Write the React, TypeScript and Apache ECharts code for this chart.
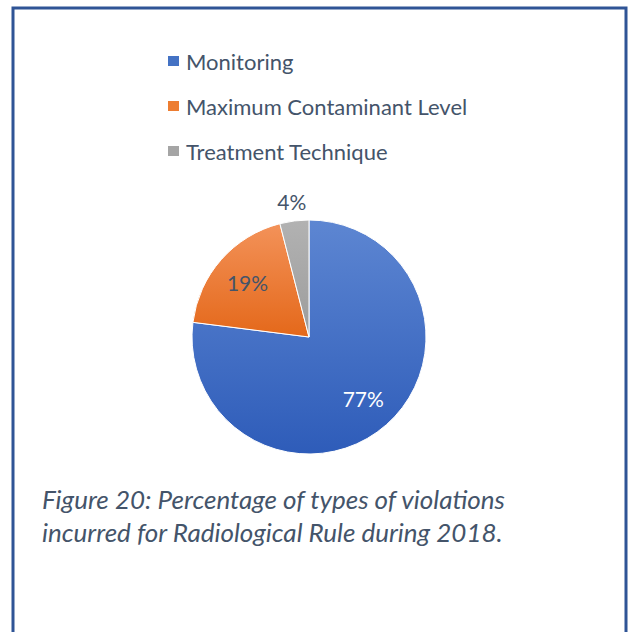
import React, { useEffect, useRef } from "react";
import * as echarts from "echarts";

const categories = ["Monitoring", "Maximum Contaminant Level", "Treatment Technique"];
const percentValues = [77, 19, 4];
const gradientTops = ["#5d86d2", "#f39259", "#b2b2b2"];
const gradientBottoms = ["#2e5cb9", "#e4681a", "#9c9c9c"];
const legendColors = ["#4472C4", "#ED7D31", "#A5A5A5"];
const labelColors = ["#ffffff", "#44546A", "#44546A"];
const captionLines = [
  "Figure 20: Percentage of types of violations",
  "incurred for Radiological Rule during 2018.",
];

const FONT = "Lato, 'Open Sans', sans-serif";
const TEXT_COLOR = "#44546A";

export default function App() {
  const ref = useRef<HTMLDivElement>(null);

  useEffect(() => {
    if (!ref.current) return;
    const chart = echarts.init(ref.current, undefined, { renderer: "svg" });

    const mainData = categories.map((name, i) => ({
      name,
      value: percentValues[i],
      itemStyle: {
        color: new echarts.graphic.LinearGradient(0, 0, 0, 1, [
          { offset: 0, color: gradientTops[i] },
          { offset: 1, color: gradientBottoms[i] },
        ]),
      },
    }));

    const labelData = (show: boolean[]) =>
      categories.map((name, i) => ({
        name,
        value: percentValues[i],
        itemStyle: { color: "rgba(0,0,0,0)" },
        label: { show: show[i], color: labelColors[i] },
      }));

    const labelCommon = {
      position: "inside",
      fontFamily: FONT,
      fontSize: 21,
      formatter: (p: any) => `${p.value}%`,
    };

    chart.setOption({
      animation: false,
      backgroundColor: "#ffffff",
      color: legendColors,
      title: {
        text: captionLines.join("\n"),
        left: 37,
        top: 477,
        textStyle: {
          fontFamily: FONT,
          fontStyle: "italic",
          fontWeight: "normal",
          fontSize: 26,
          lineHeight: 33,
          color: TEXT_COLOR,
        },
      },
      legend: {
        orient: "vertical",
        left: 161,
        top: 45,
        icon: "rect",
        itemWidth: 13,
        itemHeight: 12,
        itemGap: 23,
        selectedMode: false,
        data: categories.map((name, i) => ({ name, itemStyle: { color: legendColors[i] } })),
        textStyle: {
          fontFamily: FONT,
          fontSize: 22,
          lineHeight: 22,
          color: TEXT_COLOR,
          padding: [0, 0, 0, 1],
        },
      },
      graphic: [
        {
          type: "rect",
          shape: { x: 13, y: 8, width: 613, height: 700 },
          style: { fill: "none", stroke: "#2F5496", lineWidth: 3 },
          silent: true,
        },
      ],
      series: [
        {
          type: "pie",
          center: [309, 337],
          radius: [0, 117],
          startAngle: 90,
          clockwise: true,
          silent: true,
          label: { show: false },
          labelLine: { show: false },
          emphasis: { disabled: true },
          itemStyle: { borderColor: "#ffffff", borderWidth: 1 },
          data: mainData,
        },
        {
          type: "pie",
          center: [309, 337],
          radius: [0, 158],
          startAngle: 90,
          clockwise: true,
          silent: true,
          labelLine: { show: false },
          emphasis: { disabled: true },
          label: labelCommon,
          data: labelData([true, true, false]),
        },
        {
          type: "pie",
          center: [309, 337],
          radius: [114, 154],
          startAngle: 90,
          clockwise: true,
          silent: true,
          labelLine: { show: false },
          emphasis: { disabled: true },
          label: labelCommon,
          data: labelData([false, false, true]),
        },
      ],
    });

    return () => chart.dispose();
  }, []);

  return (
    <div
      ref={ref}
      style={{ position: "absolute", left: 0, top: 0, width: 630, height: 632 }}
    />
  );
}
